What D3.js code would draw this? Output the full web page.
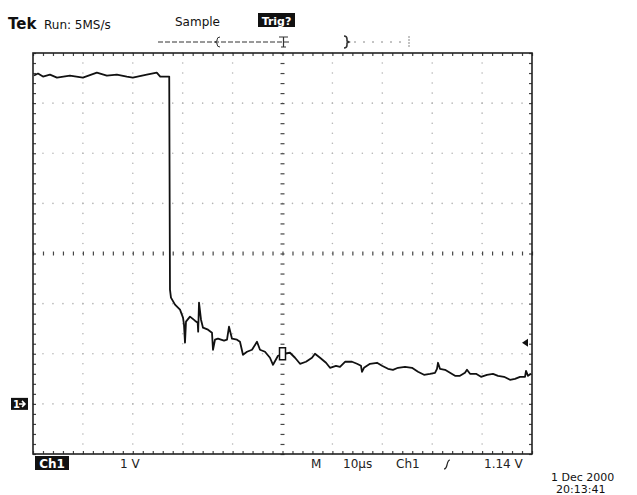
<!DOCTYPE html>
<html>
<head>
<meta charset="utf-8">
<script src="https://cdn.jsdelivr.net/npm/d3@7"></script>
<style>
  body { margin: 0; background: #fff; }
  svg { display: block; font-family: "DejaVu Sans", sans-serif; }
</style>
</head>
<body>
<svg id="chart" width="637" height="495"></svg>
<script>
// time in microseconds (10 us/div), volts (1 V/div)
const timeUs = [
  0.2, 1.0, 2.0, 3.4, 4.8, 7.4, 10.0, 12.8, 14.8, 16.8, 18.8, 20.0, 22.8, 24.8, 25.5, 26.9, 27.3,
  27.45, 27.65, 28.46, 29.46, 30.06, 30.26, 30.46, 30.66, 31.46, 32.46, 33.0, 33.1, 33.27, 33.67,
  34.07, 35.07, 35.87, 36.07, 36.47, 37.07, 38.28, 38.88, 39.28, 39.88, 40.88, 41.48, 42.08, 42.89,
  43.89, 44.89, 45.49, 46.49, 47.49, 48.1, 49.1, 50.3, 51.5, 52.51, 53.51, 54.71, 55.91, 56.51,
  57.52, 58.72, 59.52, 60.72, 61.52, 62.53, 63.93, 64.93, 65.73, 65.93, 66.33, 67.54, 68.94, 69.94,
  71.14, 72.14, 73.15, 74.55, 75.95, 77.15, 78.36, 79.56, 80.56, 80.96, 81.16, 81.56, 82.57, 83.57,
  84.57, 85.57, 86.57, 86.97, 87.58, 88.78, 89.78, 90.98, 92.18, 93.19, 94.39, 95.59, 96.59, 97.6,
  98.6, 98.8, 99.2, 99.8
];
const volts = [
  6.55, 6.59, 6.53, 6.57, 6.51, 6.55, 6.51, 6.61, 6.55, 6.57, 6.53, 6.51, 6.57, 6.61, 6.53, 6.53, 6.53,
  2.28, 2.12, 1.98, 1.88, 1.72, 1.58, 1.22, 1.64, 1.74, 1.66, 1.62, 1.44, 2.02, 1.68,
  1.52, 1.48, 1.42, 1.08, 1.28, 1.30, 1.26, 1.28, 1.54, 1.30, 1.28, 1.24, 0.98, 1.04,
  1.08, 1.24, 1.08, 1.04, 0.92, 0.78, 0.96, 1.00, 1.02, 0.92, 0.80, 0.84, 0.92, 1.00,
  0.92, 0.82, 0.72, 0.76, 0.74, 0.84, 0.84, 0.80, 0.76, 0.64, 0.72, 0.80, 0.82, 0.76,
  0.70, 0.68, 0.72, 0.74, 0.72, 0.64, 0.58, 0.60, 0.62, 0.70, 0.82, 0.70, 0.68, 0.62,
  0.56, 0.56, 0.62, 0.68, 0.60, 0.60, 0.54, 0.58, 0.60, 0.56, 0.54, 0.48, 0.50, 0.54,
  0.54, 0.66, 0.56, 0.60
];

const topLabels = ['Run: 5MS/s', 'Sample', 'Trig?'];
const bottomLabels = ['1 V', 'M', '10µs', 'Ch1', '1.14 V'];
const dateLines = ['1 Dec 2000', '20:13:41'];
const triggerLevel = 1.14;
const triggerTime = 50;

const svg = d3.select('#chart');

const frameLeft = 33, frameRight = 532, frameTop = 53, frameBottom = 454;
const x = d3.scaleLinear().domain([0, 100]).range([frameLeft, frameRight]);
const y = d3.scaleLinear().domain([-1, 7]).range([frameBottom, frameTop]);

const minorX = d3.range(0, 100.01, 2);
const minorY = d3.range(-1, 7.01, 0.2).map(d => +d.toFixed(1));
const majorX = d3.range(10, 100, 10);
const majorY = d3.range(0, 7, 1);

// dotted graticule (faint on the scan)
const grid = svg.append('g').attr('fill', '#b4b4b4');
majorX.filter(d => d !== 50).forEach(xv => {
  grid.selectAll(null).data(minorY).enter().append('circle')
    .attr('cx', x(xv)).attr('cy', d => y(d)).attr('r', 0.8);
});
majorY.filter(d => d !== 3).forEach(yv => {
  grid.selectAll(null).data(minorX).enter().append('circle')
    .attr('cx', d => x(d)).attr('cy', y(yv)).attr('r', 0.8);
});

// center cross with ticks
const tickStyle = g => {
  g.select('.domain').remove();
  g.selectAll('text').remove();
  g.selectAll('line').attr('stroke', '#444').attr('stroke-width', 1.2);
};
svg.append('g')
  .attr('transform', `translate(0,${y(3) - 2})`)
  .call(d3.axisBottom(x).tickValues(minorX).tickSize(4))
  .call(tickStyle);
svg.append('g')
  .attr('transform', `translate(${x(50) - 2},0)`)
  .call(d3.axisRight(y).tickValues(minorY).tickSize(4))
  .call(tickStyle);

// edge ticks
svg.append('g').attr('transform', `translate(0,${frameTop})`)
  .call(d3.axisBottom(x).tickValues(minorX).tickSize(3)).call(tickStyle);
svg.append('g').attr('transform', `translate(0,${frameBottom})`)
  .call(d3.axisTop(x).tickValues(minorX).tickSize(3)).call(tickStyle);
svg.append('g').attr('transform', `translate(${frameLeft},0)`)
  .call(d3.axisRight(y).tickValues(minorY).tickSize(3)).call(tickStyle);
svg.append('g').attr('transform', `translate(${frameRight},0)`)
  .call(d3.axisLeft(y).tickValues(minorY).tickSize(3)).call(tickStyle);

// frame
svg.append('rect')
  .attr('x', frameLeft).attr('y', frameTop)
  .attr('width', frameRight - frameLeft).attr('height', frameBottom - frameTop)
  .attr('fill', 'none').attr('stroke', '#222').attr('stroke-width', 1.6);

// trace
const line = d3.line()
  .x((d, i) => x(timeUs[i]))
  .y(d => y(d));
svg.append('path')
  .attr('d', line(volts))
  .attr('fill', 'none')
  .attr('stroke', '#111')
  .attr('stroke-width', 1.8)
  .attr('stroke-linejoin', 'round');

// trigger point marker on trace
svg.append('rect')
  .attr('x', x(triggerTime) - 3).attr('y', y(1.0) - 6)
  .attr('width', 6).attr('height', 12)
  .attr('fill', '#fff').attr('stroke', '#111').attr('stroke-width', 1.5);

// trigger level arrow on right
const ty = y(triggerLevel) - 4;
svg.append('path')
  .attr('d', `M${frameRight - 10},${ty} l6,-4 v8 z`)
  .attr('fill', '#111');

// ground marker
svg.append('rect').attr('x', 11).attr('y', y(0) - 6).attr('width', 17).attr('height', 12).attr('fill', '#111');
svg.append('text').attr('x', 13).attr('y', y(0) + 4).attr('fill', '#fff')
  .attr('font-size', 10).attr('font-weight', 'bold').text('1');
svg.append('path')
  .attr('d', `M19,${y(0)} h6 M22,${y(0) - 3} l3,3 l-3,3`)
  .attr('stroke', '#fff').attr('stroke-width', 1.5).attr('fill', 'none');

// top header
svg.append('text').attr('x', 8).attr('y', 29)
  .attr('font-size', 15).attr('font-weight', 'bold').attr('fill', '#111').text('Tek');
svg.append('text').attr('x', 44).attr('y', 29)
  .attr('font-size', 12).attr('fill', '#111').text(topLabels[0]);
svg.append('text').attr('x', 175).attr('y', 26)
  .attr('font-size', 12).attr('fill', '#111').text(topLabels[1]);
svg.append('rect').attr('x', 258).attr('y', 13).attr('width', 37).attr('height', 14).attr('fill', '#111');
svg.append('text').attr('x', 276.5).attr('y', 24.5).attr('text-anchor', 'middle')
  .attr('font-size', 11).attr('font-weight', 'bold').attr('fill', '#fff').text(topLabels[2]);

// record bar
const bar = svg.append('g').attr('stroke', '#333').attr('fill', 'none').attr('stroke-width', 1);
bar.append('path').attr('d', 'M158,42 H290').attr('stroke-dasharray', '5,2');
bar.append('path').attr('d', 'M220,37 q-3,0 -3,3 v1 l-2,1 l2,1 v1 q0,3 3,3');
bar.append('path').attr('d', 'M279,37 h9 M283.5,37 v10 M281,47 h5').attr('stroke-width', 1.2);
bar.append('path').attr('d', 'M344,36 q3,0 3,3 v2 l2,1 l-2,1 v2 q0,3 -3,3').attr('stroke-width', 1.6);
bar.append('path').attr('d', 'M354,42 H405').attr('stroke-dasharray', '2,7').attr('stroke', '#888');
bar.append('path').attr('d', 'M409,36 v12').attr('stroke-dasharray', '2,1').attr('stroke', '#888');

// bottom readouts
svg.append('rect').attr('x', 35).attr('y', 456).attr('width', 34).attr('height', 14).attr('fill', '#111');
svg.append('text').attr('x', 52).attr('y', 467.5).attr('text-anchor', 'middle')
  .attr('font-size', 12).attr('font-weight', 'bold').attr('fill', '#fff').text('Ch1');
const bx = [120, 311, 343, 396, 484];
const bottomText = svg.append('g').attr('font-size', 12).attr('fill', '#222');
bottomLabels.forEach((t, i) => {
  bottomText.append('text').attr('x', bx[i]).attr('y', 468).text(t);
});
svg.append('path').attr('d', 'M444,469 q2,0 3,-4 q1,-5 3,-5')
  .attr('stroke', '#222').attr('fill', 'none').attr('stroke-width', 1.2);

// date stamp
dateLines.forEach((t, i) => {
  svg.append('text').attr('x', i === 0 ? 551 : 556).attr('y', 481 + i * 12)
    .attr('font-size', 11).attr('fill', '#111').text(t);
});
</script>
</body>
</html>
